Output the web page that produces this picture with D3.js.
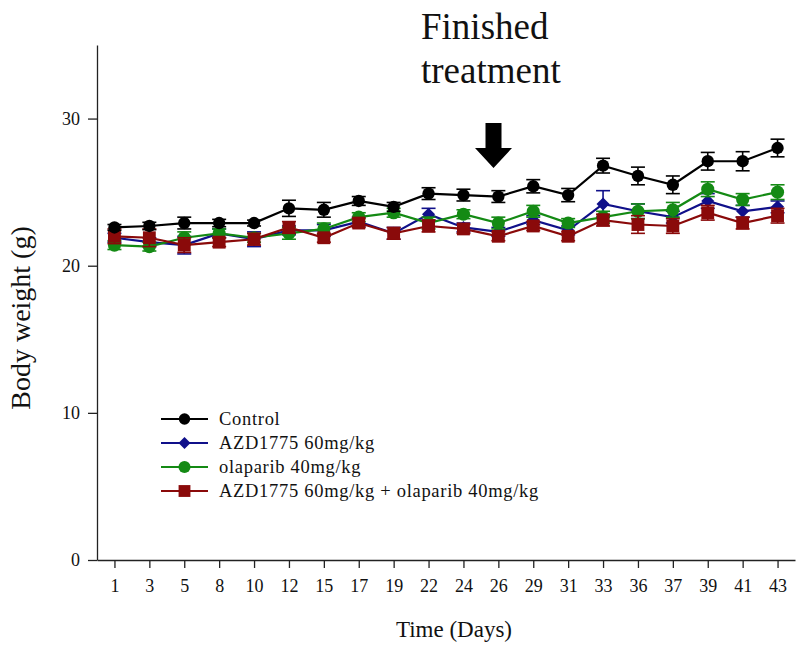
<!DOCTYPE html>
<html>
<head>
<meta charset="utf-8">
<script src="https://cdn.jsdelivr.net/npm/d3@7"></script>
<style>
  html, body { margin: 0; padding: 0; background: #fff; }
  svg { display: block; font-family: "Liberation Serif", "Times New Roman", serif; }
</style>
</head>
<body>
<svg id="chart" width="807" height="647"></svg>
<script>
// Days of measurement (categorical axis)
const days = [1, 3, 5, 8, 10, 12, 15, 17, 19, 22, 24, 26, 29, 31, 33, 36, 37, 39, 41, 43];

// Mean body weight (g) and error per group
const controlMean = [22.6, 22.7, 22.9, 22.9, 22.9, 23.9, 23.8, 24.4, 24.0, 24.9, 24.8, 24.7, 25.4, 24.8, 26.8, 26.1, 25.5, 27.1, 27.1, 28.0];
const controlErr  = [0.2, 0.25, 0.4, 0.25, 0.2, 0.55, 0.5, 0.3, 0.3, 0.4, 0.4, 0.4, 0.45, 0.45, 0.5, 0.6, 0.6, 0.6, 0.65, 0.6];

const azdMean = [21.9, 21.6, 21.4, 22.2, 21.8, 22.4, 22.4, 23.0, 22.2, 23.5, 22.6, 22.3, 23.1, 22.4, 24.2, 23.7, 23.3, 24.4, 23.7, 24.0];
const azdErr  = [0.3, 0.3, 0.6, 0.3, 0.5, 0.3, 0.4, 0.3, 0.4, 0.4, 0.3, 0.3, 0.3, 0.3, 0.9, 0.5, 0.4, 0.5, 0.4, 0.4];

const olapMean = [21.4, 21.3, 21.9, 22.2, 21.9, 22.2, 22.5, 23.3, 23.6, 22.9, 23.5, 22.9, 23.7, 22.9, 23.3, 23.7, 23.8, 25.2, 24.5, 25.0];
const olapErr  = [0.3, 0.3, 0.4, 0.3, 0.3, 0.4, 0.4, 0.3, 0.3, 0.4, 0.3, 0.4, 0.4, 0.3, 0.4, 0.5, 0.5, 0.5, 0.4, 0.5];

const comboMean = [22.0, 21.9, 21.4, 21.6, 21.8, 22.6, 21.9, 22.9, 22.2, 22.7, 22.5, 22.0, 22.7, 22.0, 23.1, 22.8, 22.7, 23.6, 22.9, 23.4];
const comboErr  = [0.5, 0.6, 0.5, 0.3, 0.4, 0.4, 0.3, 0.3, 0.4, 0.4, 0.3, 0.3, 0.3, 0.3, 0.4, 0.6, 0.5, 0.5, 0.4, 0.5];

const yTicks = [0, 10, 20, 30];

// Square symbol drawn at 45° gives an even diamond
const series = [
  { name: "AZD1775 60mg/kg", mean: azdMean, err: azdErr, color: "#10108a", symbol: d3.symbolSquare, size: 85, rot: 45 },
  { name: "olaparib 40mg/kg", mean: olapMean, err: olapErr, color: "#148a14", symbol: d3.symbolCircle, size: 135, rot: 0 },
  { name: "AZD1775 60mg/kg + olaparib 40mg/kg", mean: comboMean, err: comboErr, color: "#8a0a0a", symbol: d3.symbolSquare, size: 165, rot: 0 },
  { name: "Control", mean: controlMean, err: controlErr, color: "#000000", symbol: d3.symbolCircle, size: 120, rot: 0 }
];
const legendOrder = [3, 0, 1, 2];

const svg = d3.select("#chart");
const plotLeft = 97, plotRight = 795, plotTop = 45, plotBottom = 560;

const x = d3.scalePoint().domain(days).range([plotLeft, plotRight]).padding(0.5);
const y = d3.scaleLinear().domain([0, 35]).range([plotBottom, plotTop]);

// Axes
const xAxis = d3.axisBottom(x).tickSize(8).tickSizeOuter(0);
const gx = svg.append("g").attr("transform", `translate(0,${plotBottom})`).call(xAxis);
gx.select(".domain").attr("stroke", "#222").attr("stroke-width", 1.3);
gx.selectAll(".tick line").attr("stroke", "#222").attr("stroke-width", 1.3);
gx.selectAll(".tick text").attr("font-size", 18).attr("fill", "#111")
  .attr("font-family", "Liberation Serif, serif").attr("dy", "1.15em");

const yAxis = d3.axisLeft(y).tickValues(yTicks).tickSize(9).tickSizeOuter(0);
const gy = svg.append("g").attr("transform", `translate(${plotLeft},0)`).call(yAxis);
gy.select(".domain").attr("stroke", "#222").attr("stroke-width", 1.3);
gy.selectAll(".tick line").attr("stroke", "#222").attr("stroke-width", 1.3);
gy.selectAll(".tick text").attr("font-size", 18).attr("fill", "#111")
  .attr("font-family", "Liberation Serif, serif").attr("x", -17);

// Axis titles
svg.append("text").attr("x", 454).attr("y", 637).attr("text-anchor", "middle")
  .attr("font-size", 23).attr("fill", "#111").text("Time (Days)");
svg.append("text").attr("transform", "translate(30,318) rotate(-90)").attr("text-anchor", "middle")
  .attr("font-size", 28).attr("fill", "#111").text("Body weight (g)");

// Series: error bars, lines, markers
const line = d3.line().x((d, i) => x(days[i])).y(d => y(d));
const cap = 7;
series.forEach(s => {
  const g = svg.append("g");
  const eb = g.selectAll("g.eb").data(s.mean).join("g").attr("class", "eb");
  eb.append("line")
    .attr("x1", (d, i) => x(days[i])).attr("x2", (d, i) => x(days[i]))
    .attr("y1", (d, i) => y(d + s.err[i])).attr("y2", (d, i) => y(d - s.err[i]))
    .attr("stroke", s.color).attr("stroke-width", 1.6);
  eb.append("line")
    .attr("x1", (d, i) => x(days[i]) - cap).attr("x2", (d, i) => x(days[i]) + cap)
    .attr("y1", (d, i) => y(d + s.err[i])).attr("y2", (d, i) => y(d + s.err[i]))
    .attr("stroke", s.color).attr("stroke-width", 1.6);
  eb.append("line")
    .attr("x1", (d, i) => x(days[i]) - cap).attr("x2", (d, i) => x(days[i]) + cap)
    .attr("y1", (d, i) => y(d - s.err[i])).attr("y2", (d, i) => y(d - s.err[i]))
    .attr("stroke", s.color).attr("stroke-width", 1.6);
  g.append("path").datum(s.mean).attr("d", line)
    .attr("fill", "none").attr("stroke", s.color).attr("stroke-width", 2.2);
  g.selectAll("path.m").data(s.mean).join("path").attr("class", "m")
    .attr("transform", (d, i) => `translate(${x(days[i])},${y(d)}) rotate(${s.rot})`)
    .attr("d", d3.symbol().type(s.symbol).size(s.size))
    .attr("fill", s.color);
});

// Legend
const lg = svg.append("g");
legendOrder.forEach((k, j) => {
  const s = series[k];
  const ly = 419 + j * 24;
  lg.append("line").attr("x1", 161).attr("x2", 208).attr("y1", ly).attr("y2", ly)
    .attr("stroke", s.color).attr("stroke-width", 2.2);
  lg.append("path").attr("transform", `translate(184.5,${ly}) rotate(${s.rot})`)
    .attr("d", d3.symbol().type(s.symbol).size(s.size * 0.85)).attr("fill", s.color);
  lg.append("text").attr("x", 219).attr("y", ly + 6).attr("font-size", 18.5)
    .attr("letter-spacing", 0.7).attr("fill", "#111").text(s.name);
});

// Annotation: end of treatment
const note = svg.append("g");
note.append("text").attr("x", 421).attr("y", 38.5).attr("font-size", 37).attr("fill", "#111").text("Finished");
note.append("text").attr("x", 421).attr("y", 83).attr("font-size", 37).attr("fill", "#111").text("treatment");
const ax = 493.5;
note.append("path")
  .attr("d", `M${ax - 8},123 L${ax + 8},123 L${ax + 8},148 L${ax + 18.5},148 L${ax},168 L${ax - 18.5},148 L${ax - 8},148 Z`)
  .attr("fill", "#000");
</script>
</body>
</html>
